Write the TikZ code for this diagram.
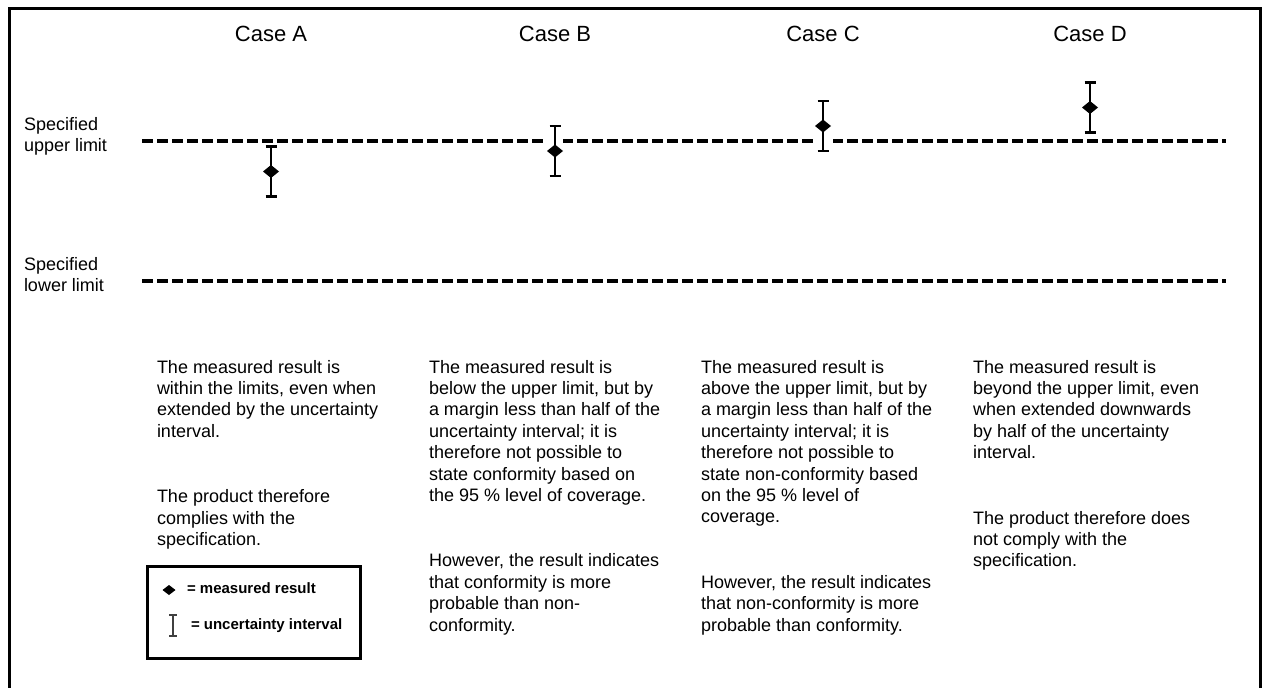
\documentclass[tikz,border=0pt]{standalone}
\usepackage{fontspec}
\setmainfont{Liberation Sans}
\usetikzlibrary{shapes.geometric}

\begin{document}
\begin{tikzpicture}[
  x=1pt, y=-1pt,
  every node/.style={inner sep=0pt, outer sep=0pt},
  casetitle/.style={anchor=base, font=\fontsize{22}{26}\selectfont},
  sidelabel/.style={anchor=north west, align=left, font=\fontsize{18}{21.3}\selectfont},
  para/.style={anchor=north west, align=left, font=\fontsize{18}{21.4}\selectfont},
  limitline/.style={line width=3.2pt, dash pattern=on 11pt off 4pt},
  result/.style={diamond, fill=black, minimum width=16pt, minimum height=13pt},
  errbar/.style={line width=2.6pt},
  legendtext/.style={anchor=base west, font=\bfseries\fontsize{15}{18}\selectfont}
]
\useasboundingbox (0,0) rectangle (1262,688);
% Outer frame, open at the bottom.
\draw[line width=3pt] (9,688) -- (9,8) -- (1260,8) -- (1260,688);

% Specification limits.
\node[sidelabel] (upperlbl) at (24,117) {Specified\\upper limit};
\node[sidelabel] (lowerlbl) at (24,257) {Specified\\lower limit};
\coordinate (upL) at (142,141);
\coordinate (upR) at (1226,141);
\coordinate (loL) at (142,281);
\coordinate (loR) at (1226,281);
\draw[limitline] (upL) -- (upR);
\draw[limitline] (loL) -- (loR);
% small breaks in the upper line where the bars of B and C cross it
\fill[white] (546,137) rectangle (563,145);
\fill[white] (813,137) rectangle (833,145);

% Case titles, uncertainty intervals and measured results.
\foreach \cx/\cy/\case in {271/171.5/A, 555/151/B, 823/126/C, 1090/107.5/D}{
  \node[casetitle] (title\case) at (\cx,41) {Case \case};
  \draw[errbar] (\cx-5.5,\cy-25) -- (\cx+5.5,\cy-25)
    (\cx,\cy-25) -- (\cx,\cy+25)
    (\cx-5.5,\cy+25) -- (\cx+5.5,\cy+25);
  \node[result] (res\case) at (\cx,\cy) {};
}

% Explanations under each case.
\node[para] (descA) at (157,360) {The measured result is\\within the limits, even when\\
  extended by the uncertainty\\interval.\\[44pt]The product therefore\\
  complies with the\\specification.};
\node[para] (descB) at (429,360) {The measured result is\\below the upper limit, but by\\
  a margin less than half of the\\uncertainty interval; it is\\
  therefore not possible to\\state conformity based on\\
  the 95 \% level of coverage.\\[44pt]However, the result indicates\\
  that conformity is more\\probable than non-\\conformity.};
\node[para] (descC) at (701,360) {The measured result is\\above the upper limit, but by\\
  a margin less than half of the\\uncertainty interval; it is\\
  therefore not possible to\\state non-conformity based\\
  on the 95 \% level of\\coverage.\\[44pt]However, the result indicates\\
  that non-conformity is more\\probable than conformity.};
\node[para] (descD) at (973,360) {The measured result is\\beyond the upper limit, even\\
  when extended downwards\\by half of the uncertainty\\
  interval.\\[44pt]The product therefore does\\not comply with the\\
  specification.};

% Legend.
\draw[line width=3pt] (147,566) rectangle (360,658);
\node[result, minimum width=13pt, minimum height=10pt] (legres) at (169,590) {};
\node[legendtext] (legrestxt) at (187,593) {= measured result};
\draw[line width=1.3pt, black!75] (169,615) -- (177,615) (173,615) -- (173,636)
  (169,636) -- (177,636);
\node[legendtext] (legbartxt) at (191,629) {= uncertainty interval};
\end{tikzpicture}
\end{document}
